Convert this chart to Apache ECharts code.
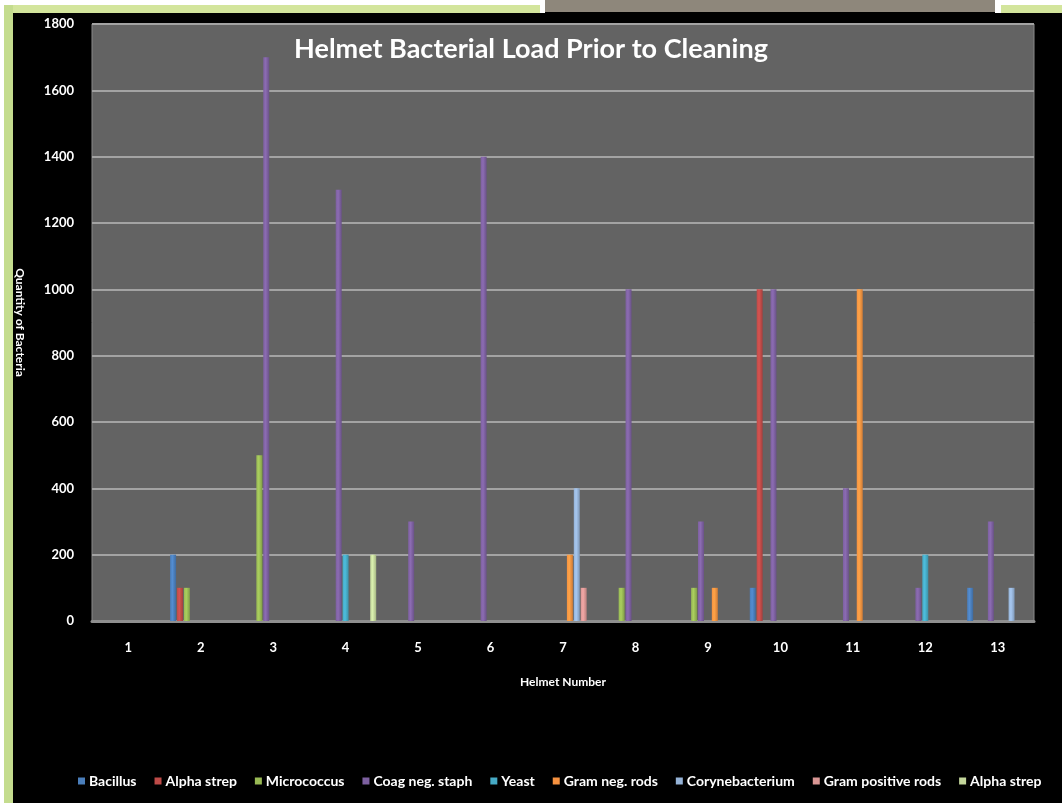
<!DOCTYPE html>
<html>
<head>
<meta charset="utf-8">
<script src="https://cdn.jsdelivr.net/npm/echarts@6/dist/echarts.min.js"></script>
<style>
  html, body { margin: 0; padding: 0; background: #000; }
  #chart { width: 1062px; height: 803px; }
</style>
</head>
<body>
<div id="chart"></div>
<script>
const categories = ['1','2','3','4','5','6','7','8','9','10','11','12','13'];
const seriesNames = ['Bacillus','Alpha strep','Micrococcus','Coag neg. staph','Yeast','Gram neg. rods','Corynebacterium','Gram positive rods','Alpha strep '];
const bacillus        = [0, 200, 0, 0, 0, 0, 0, 0, 0, 100, 0, 0, 100];
const alphaStrep      = [0, 100, 0, 0, 0, 0, 0, 0, 0, 1000, 0, 0, 0];
const micrococcus     = [0, 100, 500, 0, 0, 0, 0, 100, 100, 0, 0, 0, 0];
const coagNegStaph    = [0, 0, 1700, 1300, 300, 1400, 0, 1000, 300, 1000, 400, 100, 300];
const yeast           = [0, 0, 0, 200, 0, 0, 0, 0, 0, 0, 0, 200, 0];
const gramNegRods     = [0, 0, 0, 0, 0, 0, 200, 0, 100, 0, 1000, 0, 0];
const corynebacterium = [0, 0, 0, 0, 0, 0, 400, 0, 0, 0, 0, 0, 100];
const gramPosRods     = [0, 0, 0, 0, 0, 0, 100, 0, 0, 0, 0, 0, 0];
const alphaStrep2     = [0, 0, 0, 200, 0, 0, 0, 0, 0, 0, 0, 0, 0];
const yTicks = [0, 200, 400, 600, 800, 1000, 1200, 1400, 1600, 1800];

const allData = [bacillus, alphaStrep, micrococcus, coagNegStaph, yeast, gramNegRods, corynebacterium, gramPosRods, alphaStrep2];
const colors = ['#4a7ebb','#be4b48','#98b954','#7d60a0','#46aac5','#f69240','#95b3d7','#d99694','#c3d69b'];

function shade(hex, f) {
  const n = parseInt(hex.slice(1), 16);
  let r = (n >> 16) & 255, g = (n >> 8) & 255, b = n & 255;
  r = Math.round(Math.min(255, r * f)); g = Math.round(Math.min(255, g * f)); b = Math.round(Math.min(255, b * f));
  return 'rgb(' + r + ',' + g + ',' + b + ')';
}

const chart = echarts.init(document.getElementById('chart'));
const series = allData.map((d, i) => ({
  name: seriesNames[i],
  type: 'bar',
  data: d,
  barWidth: 6,
  barGap: '15%',
  itemStyle: {
    color: new echarts.graphic.LinearGradient(0, 0, 1, 0, [
      { offset: 0, color: shade(colors[i], 1.0) },
      { offset: 0.4, color: shade(colors[i], 1.12) },
      { offset: 1, color: shade(colors[i], 0.85) }
    ])
  }
}));

chart.setOption({
  backgroundColor: '#000',
  animation: false,
  color: colors,
  graphic: [
    { type: 'rect', shape: { x: 0, y: 0, width: 1062, height: 5 }, style: { fill: '#ffffff' }, z: -10 },
    { type: 'rect', shape: { x: 0, y: 5, width: 540, height: 8 }, style: { fill: '#d3e59c' }, z: -10 },
    { type: 'rect', shape: { x: 540, y: 0, width: 5, height: 13 }, style: { fill: '#ffffff' }, z: -10 },
    { type: 'rect', shape: { x: 545, y: 0, width: 450, height: 12 }, style: { fill: '#8e877b' }, z: -10 },
    { type: 'rect', shape: { x: 995, y: 0, width: 6, height: 13 }, style: { fill: '#ffffff' }, z: -10 },
    { type: 'rect', shape: { x: 1001, y: 5, width: 61, height: 8 }, style: { fill: '#d3e59c' }, z: -10 },
    { type: 'rect', shape: { x: 0, y: 0, width: 4, height: 803 }, style: { fill: '#ffffff' }, z: -10 },
    { type: 'rect', shape: { x: 4, y: 5, width: 9, height: 798 }, style: { fill: '#c4dc8e' }, z: -10 }
  ],
  title: {
    text: 'Helmet Bacterial Load Prior to Cleaning',
    left: 'center',
    top: 31,
    textStyle: { color: '#ffffff', fontSize: 27, fontWeight: 'bold', fontFamily: 'Lato' }
  },
  legend: {
    bottom: 10,
    left: 73,
    itemWidth: 7,
    itemHeight: 7,
    itemGap: 18,
    icon: 'rect',
    textStyle: { color: '#ffffff', fontSize: 14, fontWeight: 'bold', fontFamily: 'Lato', padding: [0, 0, 0, -1] },
    data: seriesNames.map((n, i) => ({ name: n, itemStyle: { color: colors[i] } }))
  },
  grid: {
    left: 92, right: 28, top: 24, bottom: 182,
    show: true, backgroundColor: '#636363', borderColor: '#8a8a8a', borderWidth: 1
  },
  xAxis: {
    type: 'category',
    data: categories,
    name: 'Helmet Number',
    nameLocation: 'middle',
    nameGap: 55,
    nameTextStyle: { color: '#ffffff', fontSize: 12, fontWeight: 'bold', fontFamily: 'Lato' },
    axisLine: { lineStyle: { color: '#8f8f8f', width: 3 } },
    axisTick: { show: false },
    axisLabel: { color: '#ffffff', fontSize: 13, fontWeight: 'bold', fontFamily: 'Lato', margin: 20 }
  },
  yAxis: {
    type: 'value',
    min: 0, max: 1800, interval: 200,
    name: 'Quantity of Bacteria',
    nameLocation: 'middle',
    nameRotate: -90,
    nameGap: 66,
    nameTextStyle: { color: '#ffffff', fontSize: 12, fontWeight: 'bold', fontFamily: 'Lato' },
    axisLine: { show: false },
    axisTick: { show: false },
    splitLine: { lineStyle: { color: '#a3a3a3', width: 2 } },
    axisLabel: {
      color: '#ffffff', fontSize: 13, fontWeight: 'bold', fontFamily: 'Lato', margin: 18,
      formatter: v => yTicks.includes(v) ? String(v) : ''
    }
  },
  series: series
});
</script>
</body>
</html>
